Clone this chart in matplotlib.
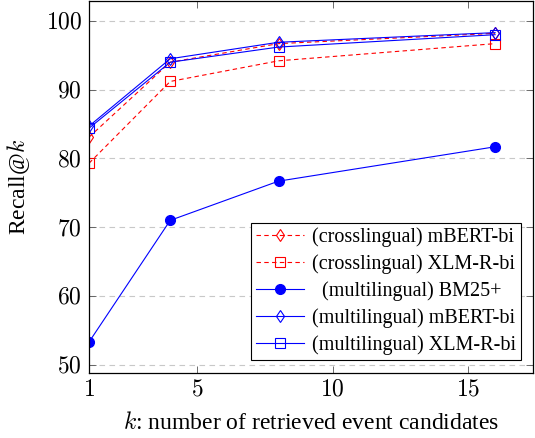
import matplotlib
matplotlib.use("Agg")
import matplotlib.pyplot as plt

k = [1, 4, 8, 16]
cross_mbert = [83.1, 94.0, 96.7, 98.2]
cross_xlmr = [79.3, 91.2, 94.2, 96.7]
multi_bm25 = [53.3, 71.0, 76.7, 81.7]
multi_mbert = [84.7, 94.5, 96.9, 98.3]
multi_xlmr = [84.4, 94.0, 96.2, 98.0]
labels = ["(crosslingual) mBERT-bi", "(crosslingual) XLM-R-bi",
          "  (multilingual) BM25+", "(multilingual) mBERT-bi",
          "(multilingual) XLM-R-bi"]
xticks = [1, 5, 10, 15]
yticks = [50, 60, 70, 80, 90, 100]

plt.rcParams['font.family'] = ['Liberation Serif', 'DejaVu Serif']
plt.rcParams['mathtext.fontset'] = 'cm'

fig = plt.figure(figsize=(5.35, 4.38), dpi=100)
ax = fig.add_axes([89/535, 1 - 373/438, 444/535, 372/438])

lw = 0.8
ax.plot(k, cross_mbert, color='red', ls=(0, (4, 3)), lw=lw, marker='d', ms=6,
        mfc='none', mec='red', mew=0.8, label=labels[0])
ax.plot(k, cross_xlmr, color='red', ls=(0, (4, 3)), lw=lw, marker='s', ms=7,
        mfc='none', mec='red', mew=0.8, label=labels[1])
ax.plot(k, multi_bm25, color='blue', ls='-', lw=lw, marker='o', ms=7,
        mfc='blue', mec='blue', label=labels[2])
ax.plot(k, multi_mbert, color='blue', ls='-', lw=lw, marker='d', ms=6,
        mfc='none', mec='blue', mew=0.8, label=labels[3])
ax.plot(k, multi_xlmr, color='blue', ls='-', lw=lw, marker='s', ms=7,
        mfc='none', mec='blue', mew=0.8, label=labels[4])

ax.set_xlim(1, 17.4)
ax.set_ylim(48.8, 102.9)
ax.set_xticks(xticks)
ax.set_xticklabels([f"${v}$" for v in xticks])
ax.set_yticks(yticks)
ax.set_yticklabels([f"${v}$" for v in yticks])
ax.tick_params(direction='in', top=True, right=True, length=5, width=0.6,
               labelsize=17, color='#555555', pad=5)
ax.yaxis.grid(True, ls=(0, (5, 4)), color='#c8c8c8', lw=0.8)
ax.set_axisbelow(True)
for s in ax.spines.values():
    s.set_linewidth(0.9)

ax.set_xlabel("$k$: number of retrieved event candidates", fontsize=17, labelpad=8)
ax.set_ylabel("Recall@$k$", fontsize=17, labelpad=10)

leg = ax.legend(loc='lower right', fontsize=14.5, frameon=True, fancybox=False,
                edgecolor='black', framealpha=1, borderpad=0.25,
                labelspacing=0.35, handlelength=2.4, handletextpad=0.4,
                borderaxespad=0.0, bbox_to_anchor=(0.974, 0.036))
leg.get_frame().set_linewidth(0.8)

fig.savefig("out.png", dpi=100)
